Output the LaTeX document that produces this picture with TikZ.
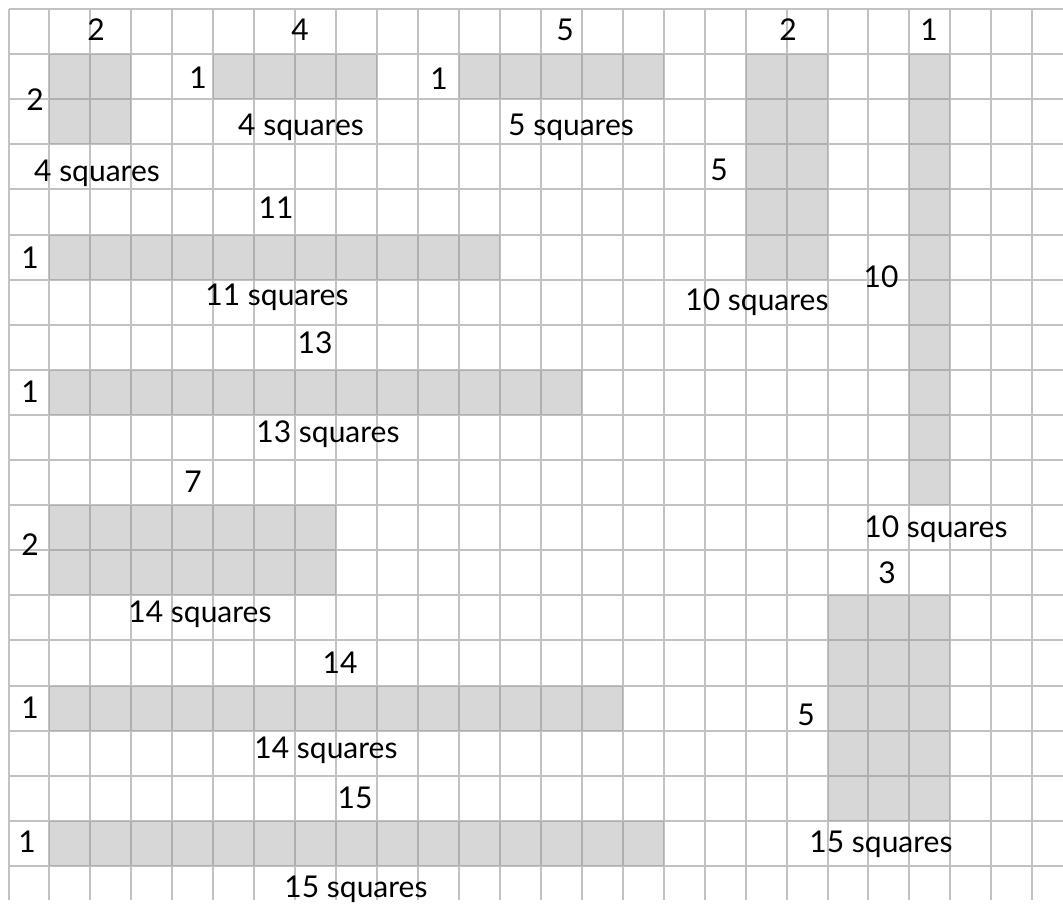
\documentclass[tikz,border=0pt]{standalone}
\usepackage{fontspec}
\setmainfont{Lato}
\begin{document}
\begin{tikzpicture}[x=1bp,y=-1bp,
  gridline/.style={draw={rgb,255:red,194;green,194;blue,194},line width=2bp},
  shaded/.style={fill={rgb,255:red,142;green,142;blue,142},fill opacity=0.35},
  lbl/.style={inner sep=0pt,anchor=base,font=\fontsize{30bp}{32bp}\selectfont,text=black}]
\useasboundingbox (0,0) rectangle (1063,909);
\fill[white] (0,0) rectangle (1063,909);
\begin{scope}[shift={(8.5,9)},x=40.95bp,y=-45.1bp]
  \foreach \i in {0,...,25} \draw[gridline] (\i,0) -- (\i,19.76);
  \foreach \j in {0,...,19} \draw[gridline] (0,\j) -- (25.75,\j);
  \fill[shaded] (1,1) rectangle (3,3);
  \fill[shaded] (5,1) rectangle (9,2);
  \fill[shaded] (11,1) rectangle (16,2);
  \fill[shaded] (18,1) rectangle (20,6);
  \fill[shaded] (22,1) rectangle (23,11);
  \fill[shaded] (1,5) rectangle (12,6);
  \fill[shaded] (1,8) rectangle (14,9);
  \fill[shaded] (1,11) rectangle (8,13);
  \fill[shaded] (20,13) rectangle (23,18);
  \fill[shaded] (1,15) rectangle (15,16);
  \fill[shaded] (1,18) rectangle (16,19);
\end{scope}
% top labels
\node[lbl] (t2a) at (96,40) {2};
\node[lbl] (t4) at (300,40) {4};
\node[lbl] (t5) at (565,40) {5};
\node[lbl] (t2b) at (788,40) {2};
\node[lbl] (t1) at (929,40) {1};
% first row shapes
\node[lbl] (lA) at (35,110) {2};
\node[lbl] (lB) at (198,88) {1};
\node[lbl] (lC) at (439,89) {1};
\node[lbl] (sA) at (97,181) {4 squares};
\node[lbl] (sB) at (301,135) {4 squares};
\node[lbl] (sC) at (571,135) {5 squares};
\node[lbl] (lD) at (719,180) {5};
\node[lbl] (sD) at (757,310) {10 squares};
\node[lbl] (lE) at (881,287) {10};
\node[lbl] (sE) at (936,537) {10 squares};
% long bars
\node[lbl] (tF) at (276,218) {11};
\node[lbl] (lF) at (30,268) {1};
\node[lbl] (sF) at (277,305) {11 squares};
\node[lbl] (tG) at (315,353) {13};
\node[lbl] (lG) at (30,402) {1};
\node[lbl] (sG) at (328,442) {13 squares};
\node[lbl] (tH) at (193,492) {7};
\node[lbl] (lH) at (30,555) {2};
\node[lbl] (sH) at (200,622) {14 squares};
\node[lbl] (tI) at (887,583) {3};
\node[lbl] (lI) at (806,725) {5};
\node[lbl] (sI) at (881,852) {15 squares};
\node[lbl] (tJ) at (340,673) {14};
\node[lbl] (lJ) at (30,718) {1};
\node[lbl] (sJ) at (326,758) {14 squares};
\node[lbl] (tK) at (355,808) {15};
\node[lbl] (lK) at (27,852) {1};
\node[lbl] (sK) at (356,897) {15 squares};
\end{tikzpicture}
\end{document}
